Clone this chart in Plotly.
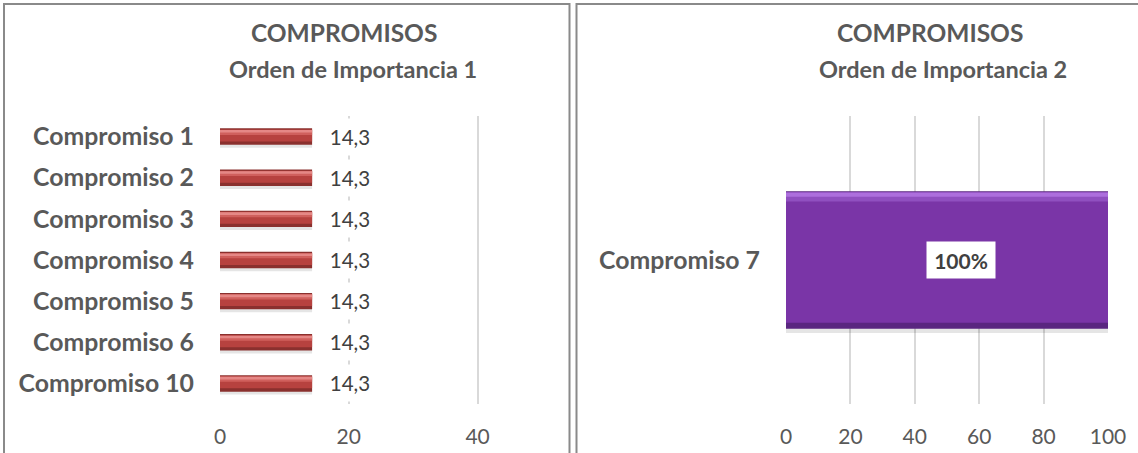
import plotly.graph_objects as go

# ---- data -------------------------------------------------------------
cats_imp1 = ["Compromiso 1", "Compromiso 2", "Compromiso 3", "Compromiso 4",
             "Compromiso 5", "Compromiso 6", "Compromiso 10"]
vals_imp1 = [14.3, 14.3, 14.3, 14.3, 14.3, 14.3, 14.3]

cats_imp2 = ["Compromiso 7"]
vals_imp2 = [100]

ticks_imp1 = [0, 20, 40]
ticks_imp2 = [0, 20, 40, 60, 80, 100]

title_main = "COMPROMISOS"
subtitle_imp1 = "Orden de Importancia 1"
subtitle_imp2 = "Orden de Importancia 2"

# ---- page geometry (pixels) ------------------------------------------
W, H = 1138, 453
FONT = "Lato"
GREY = "#595959"
DARK = "#404040"
GRID = "#D9D9D9"


def px(x):
    return x / W


def py(y):
    return 1 - y / H


fig = go.Figure()


def bevel_bars(cats, vals, xa, ya, thick, layers):
    """Stack several overlaid bars per category to give a bevelled look.
    layers: (colour, top_frac, bottom_frac) measured from the top edge."""
    for colour, f0, f1 in layers:
        fig.add_trace(go.Bar(
            y=cats, x=vals, orientation="h",
            xaxis=xa, yaxis=ya,
            marker=dict(color=colour, line=dict(width=0)),
            width=[(f1 - f0) * thick] * len(cats),
            offset=[-thick / 2 + f0 * thick] * len(cats),
            hoverinfo="skip", showlegend=False,
        ))


# red bars (importance 1)
bevel_bars(cats_imp1, vals_imp1, "x", "y", 0.40, [
    ("rgba(0,0,0,0.10)", 0.15, 1.18),
    ("#8A302E", 0.00, 1.00),
    ("#B7423F", 0.07, 0.80),
    ("#D0605D", 0.10, 0.40),
    ("#E58886", 0.10, 0.26),
])

# purple bar (importance 2)
bevel_bars(cats_imp2, vals_imp2, "x2", "y2", 0.478, [
    ("rgba(0,0,0,0.10)", 0.03, 1.03),
    ("#5A2680", 0.00, 1.00),
    ("#7A35A7", 0.010, 0.955),
    ("#9050C0", 0.010, 0.075),
    ("#AD6FDD", 0.010, 0.040),
])

annotations = []

# value labels with white boxes
for c, v in zip(cats_imp1, vals_imp1):
    annotations.append(dict(
        x=v, y=c, xref="x", yref="y", xanchor="left", yanchor="middle",
        xshift=9, showarrow=False, text=f"{v:.1f}".replace(".", ","),
        font=dict(family=FONT, size=20.5, color=DARK),
        bgcolor="white", width=56, height=36, borderpad=0,
    ))
for c, v in zip(cats_imp2, vals_imp2):
    annotations.append(dict(
        x=v / 2, y=c, xref="x2", yref="y2", xanchor="center", yanchor="middle",
        xshift=14, showarrow=False, text=f"<b>{v:.0f}%</b>",
        font=dict(family=FONT, size=21, color=DARK),
        bgcolor="white", width=68, height=36, borderpad=0,
    ))

# chart titles
for cx1, cx2, sub in [(344, 353, subtitle_imp1), (930, 943, subtitle_imp2)]:
    annotations.append(dict(x=px(cx1), y=py(32), xref="paper", yref="paper",
                            xanchor="center", yanchor="middle", showarrow=False,
                            text=f"<b>{title_main}</b>",
                            font=dict(family=FONT, size=24.5, color=GREY)))
    annotations.append(dict(x=px(cx2), y=py(69), xref="paper", yref="paper",
                            xanchor="center", yanchor="middle", showarrow=False,
                            text=f"<b>{sub}</b>",
                            font=dict(family=FONT, size=23.5, color=GREY)))

# chart-area borders
shapes = [
    dict(type="rect", xref="paper", yref="paper",
         x0=px(4), x1=px(569.5), y0=-0.05, y1=py(4),
         line=dict(color="#8A8A8A", width=2), fillcolor="rgba(0,0,0,0)"),
    dict(type="rect", xref="paper", yref="paper",
         x0=px(576.5), x1=1.05, y0=-0.05, y1=py(4),
         line=dict(color="#8A8A8A", width=2), fillcolor="rgba(0,0,0,0)"),
]

ydom = [py(404), py(116)]
xaxis_common = dict(showline=False, zeroline=False, showgrid=True,
                    gridcolor=GRID, gridwidth=2, ticks="", automargin=False,
                    tickfont=dict(family=FONT, size=21, color=GREY),
                    ticklabelstandoff=18, fixedrange=True)
yaxis_common = dict(showline=False, zeroline=False, showgrid=False, ticks="",
                    automargin=False,
                    tickfont=dict(family=FONT, size=24.8, color=GREY),
                    ticklabelstandoff=25, fixedrange=True, type="category")

fig.update_layout(
    width=W, height=H, autosize=False,
    margin=dict(l=0, r=0, t=0, b=0, pad=0, autoexpand=False),
    paper_bgcolor="white", plot_bgcolor="white",
    barmode="overlay", separators=",.",
    showlegend=False,
    xaxis=dict(domain=[px(220), px(542)], range=[0, 50],
               tickvals=ticks_imp1, anchor="y", **xaxis_common),
    yaxis=dict(domain=ydom, range=[len(cats_imp1) - 0.5, -0.5],
               categoryorder="array", categoryarray=cats_imp1,
               anchor="x", tickprefix="<b>", ticksuffix="</b>", **yaxis_common),
    xaxis2=dict(domain=[px(786), px(1108)], range=[0, 100],
                tickvals=ticks_imp2, anchor="y2", **xaxis_common),
    yaxis2=dict(domain=ydom, range=[0.5, -0.5],
                categoryorder="array", categoryarray=cats_imp2,
                anchor="x2", tickprefix="<b>", ticksuffix="</b>", **yaxis_common),
    annotations=annotations,
    shapes=shapes,
)

fig.write_html("out.html", config={"responsive": False, "displayModeBar": False})
